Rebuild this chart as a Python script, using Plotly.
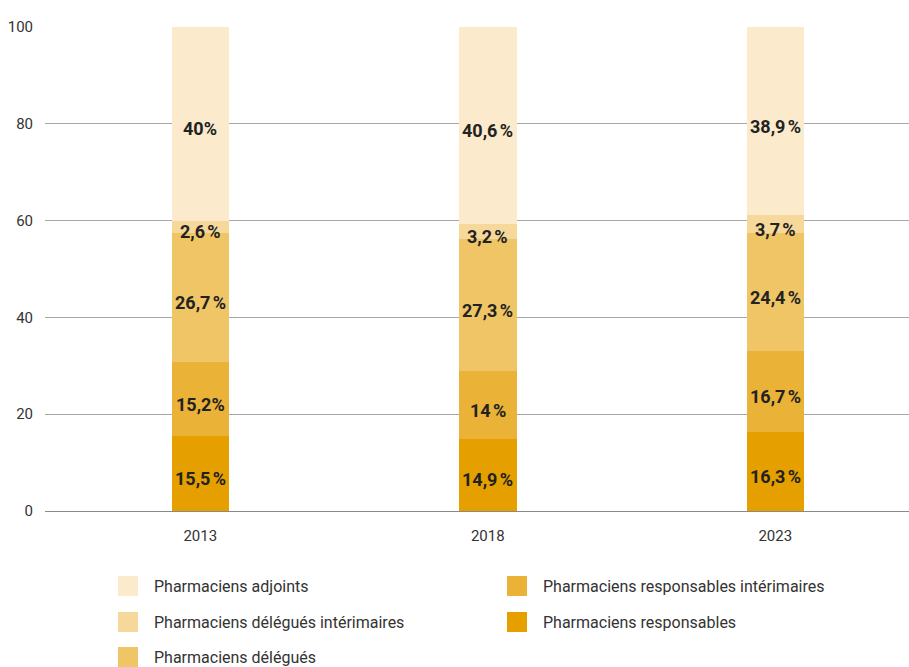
import plotly.graph_objects as go

years = ["2013", "2018", "2023"]
series_names = [
    "Pharmaciens responsables",
    "Pharmaciens responsables intérimaires",
    "Pharmaciens délégués",
    "Pharmaciens délégués intérimaires",
    "Pharmaciens adjoints",
]
responsables = [15.5, 14.9, 16.3]
resp_interimaires = [15.2, 14.0, 16.7]
delegues = [26.7, 27.3, 24.4]
deleg_interimaires = [2.6, 3.2, 3.7]
adjoints = [40.0, 40.6, 38.9]
labels = [
    ["15,5\u202f%", "14,9\u202f%", "16,3\u202f%"],
    ["15,2%", "14\u202f%", "16,7\u202f%"],
    ["26,7\u202f%", "27,3\u202f%", "24,4\u202f%"],
    ["2,6\u202f%", "3,2\u202f%", "3,7\u202f%"],
    ["40%", "40,6\u202f%", "38,9\u202f%"],
]
values = [responsables, resp_interimaires, delegues, deleg_interimaires, adjoints]
colors = ["#E5A000", "#EAB236", "#EFC566", "#F6D99A", "#FBEACC"]
y_ticks = [0, 20, 40, 60, 80, 100]

LABEL_FONT = "Roboto, sans-serif"
TEXT_FONT = "Roboto, sans-serif"

fig = go.Figure()
for name, vals, col in zip(series_names, values, colors):
    fig.add_trace(go.Bar(
        x=years, y=vals, name=name,
        marker=dict(color=col, line=dict(width=0)),
        width=0.2,
        showlegend=False,
        hoverinfo="skip",
    ))

annotations = []
# value labels at segment centres (computed from the data), slightly below centre
base = [0.0] * len(years)
for vals, lab in zip(values, labels):
    for i, (v, t) in enumerate(zip(vals, lab)):
        annotations.append(dict(x=i, y=base[i] + v / 2, xref="x", yref="y",
                                text=t, showarrow=False, yshift=-5,
                                font=dict(family=LABEL_FONT, size=18, color="#222222",
                                          weight="bold")))
        base[i] += v

# Plot area geometry (pixels) for custom legend placement
L, R, T, B = 45, 909, 27, 511
W, H = R - L, B - T

def px(x):
    return (x - L) / W

def py(y):
    return (B - y) / H

legend_order = [
    (4, 118, 152, 586),
    (3, 118, 152, 622),
    (2, 118, 152, 657),
    (1, 507, 541, 586),
    (0, 507, 541, 622),
]
shapes = []
for idx, sx, tx, cy in legend_order:
    shapes.append(dict(type="rect", xref="paper", yref="paper",
                       x0=px(sx), x1=px(sx + 20), y0=py(cy + 10), y1=py(cy - 10),
                       fillcolor=colors[idx], line=dict(width=0), layer="above"))
    annotations.append(dict(xref="paper", yref="paper", x=px(tx), y=py(cy),
                            text=series_names[idx], showarrow=False,
                            xanchor="left", yanchor="middle",
                            font=dict(family=TEXT_FONT, size=16, color="#333333")))

fig.update_layout(
    barmode="stack",
    width=909, height=667,
    margin=dict(l=L, r=909 - R, t=T, b=667 - B),
    paper_bgcolor="white", plot_bgcolor="white",
    shapes=shapes,
    annotations=annotations,
    showlegend=False,
    xaxis=dict(type="category", range=[-0.54, 2.465], showgrid=False, zeroline=False,
               showline=False,
               tickfont=dict(family=TEXT_FONT, size=15, color="#333333"),
               ticks="", ticklabelstandoff=14),
    yaxis=dict(range=[0, 100], tickvals=y_ticks, showgrid=True, gridcolor="#A8A8A8",
               gridwidth=1, zeroline=True, zerolinecolor="#8A8A8A", zerolinewidth=1,
               showline=False, ticks="", ticklabelstandoff=11,
               tickfont=dict(family=TEXT_FONT, size=15, color="#333333")),
)

fig.write_html("out.html", config={"displayModeBar": False},
               post_script="document.body.style.margin='0';document.body.style.overflow='hidden';")
